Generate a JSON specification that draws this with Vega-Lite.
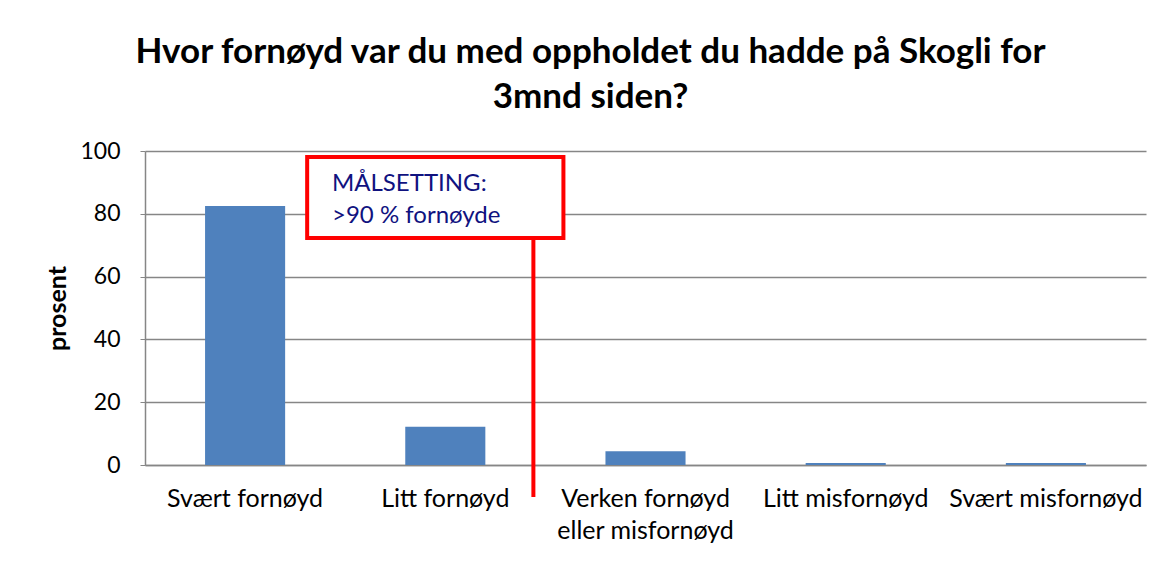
{
  "$schema": "https://vega.github.io/schema/vega-lite/v6.json",
  "autosize": "none",
  "width": 1001,
  "height": 314,
  "padding": {"left": 145, "top": 151, "right": 22, "bottom": 96},
  "background": "white",
  "config": {
    "font": "Lato",
    "view": {"stroke": null}
  },
  "title": {
    "text": ["Hvor fornøyd var du med oppholdet du hadde på Skogli for", "3mnd siden?"],
    "font": "Lato",
    "fontSize": 35,
    "fontWeight": "bold",
    "lineHeight": 45,
    "anchor": "middle",
    "dx": -55,
    "offset": 25,
    "color": "black"
  },
  "resolve": {"scale": {"x": "independent"}},
  "layer": [
    {
      "data": {
        "values": [
          {"svar": "Svært fornøyd", "prosent": 82.5},
          {"svar": "Litt fornøyd", "prosent": 12.2},
          {"svar": "Verken fornøyd eller misfornøyd", "prosent": 4.4},
          {"svar": "Litt misfornøyd", "prosent": 0.6},
          {"svar": "Svært misfornøyd", "prosent": 0.6}
        ]
      },
      "mark": {"type": "bar", "color": "#4F81BD"},
      "encoding": {
        "x": {
          "field": "svar",
          "type": "nominal",
          "sort": null,
          "scale": {"paddingInner": 0.6, "paddingOuter": 0.3},
          "axis": {
            "title": null,
            "labelAngle": 0,
            "labelFont": "Lato",
            "labelFontSize": 25,
            "labelColor": "black",
            "labelPadding": 21,
            "labelBaseline": "top",
            "labelLineHeight": 32,
            "labelLimit": 300,
            "labelExpr": "datum.label == 'Verken fornøyd eller misfornøyd' ? ['Verken fornøyd', 'eller misfornøyd'] : datum.label",
            "ticks": false,
            "domainColor": "#868686",
            "domainWidth": 1.5,
            "grid": false
          }
        },
        "y": {
          "field": "prosent",
          "type": "quantitative",
          "scale": {"domain": [0, 100], "nice": false},
          "axis": {
            "title": "prosent",
            "titleFont": "Lato",
            "titleFontSize": 25,
            "titleFontWeight": "bold",
            "titleColor": "black",
            "titlePadding": 9,
            "values": [0, 20, 40, 60, 80, 100],
            "labelFont": "Lato",
            "labelFontSize": 23,
            "labelColor": "black",
            "labelPadding": 20,
            "tickSize": 5,
            "tickColor": "#868686",
            "domainColor": "#868686",
            "domainWidth": 1.5,
            "gridColor": "#868686",
            "gridWidth": 1.5
          }
        }
      }
    },
    {
      "data": {"values": [{"pos": 1.94, "top": 72.3, "bottom": -10.2}]},
      "mark": {"type": "rule", "color": "#FF0000", "strokeWidth": 4},
      "encoding": {
        "x": {"field": "pos", "type": "quantitative", "scale": {"domain": [0, 5], "nice": false, "zero": false}, "axis": null},
        "y": {"field": "top", "type": "quantitative"},
        "y2": {"field": "bottom"}
      }
    },
    {
      "data": {"values": [{"x1": 0.81, "x2": 2.09, "y1": 72.3, "y2": 98.1}]},
      "mark": {"type": "rect", "fill": "white", "stroke": "#FF0000", "strokeWidth": 4},
      "encoding": {
        "x": {"field": "x1", "type": "quantitative", "scale": {"domain": [0, 5], "nice": false, "zero": false}, "axis": null},
        "x2": {"field": "x2"},
        "y": {"field": "y1", "type": "quantitative"},
        "y2": {"field": "y2"}
      }
    },
    {
      "data": {
        "values": [
          {"tekst": "MÅLSETTING:", "x": 0.934, "y": 87.2},
          {"tekst": ">90 % fornøyde", "x": 0.934, "y": 77.0}
        ]
      },
      "mark": {"type": "text", "align": "left", "baseline": "alphabetic", "font": "Lato", "fontSize": 24, "color": "#10127F"},
      "encoding": {
        "x": {"field": "x", "type": "quantitative", "scale": {"domain": [0, 5], "nice": false, "zero": false}, "axis": null},
        "y": {"field": "y", "type": "quantitative"},
        "text": {"field": "tekst"}
      }
    }
  ]
}
